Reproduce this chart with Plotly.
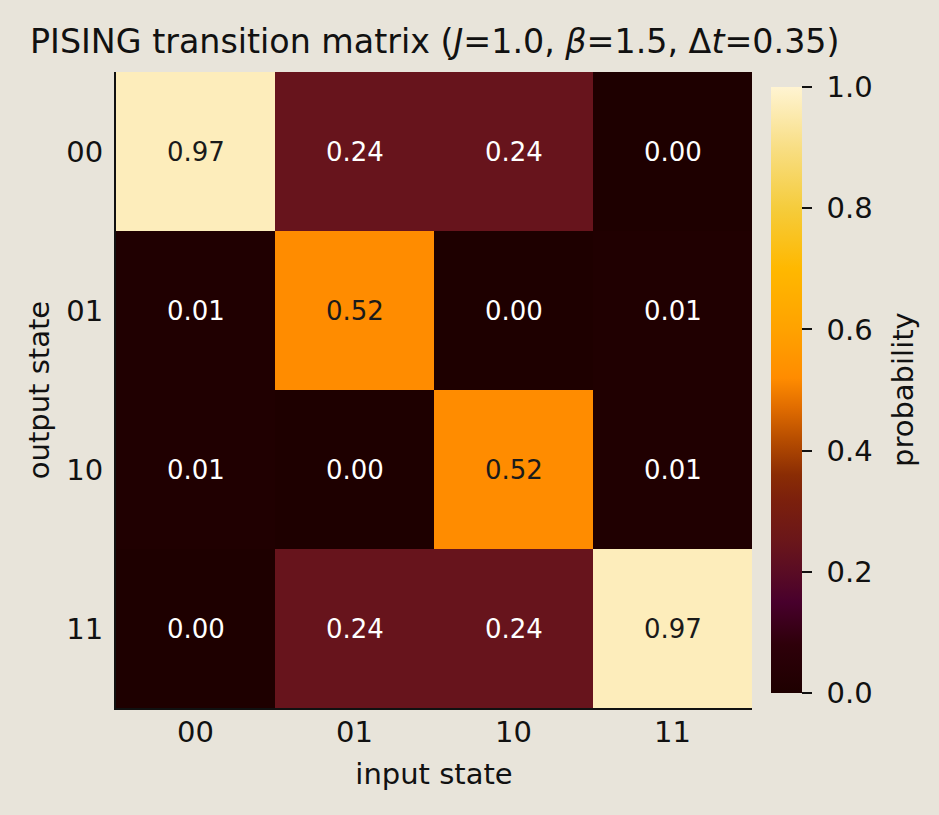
import plotly.graph_objects as go

# transition matrix values (rows = output state, cols = input state)
states = ['00', '01', '10', '11']
probs = [
    [0.97, 0.24, 0.24, 0.00],
    [0.01, 0.52, 0.00, 0.01],
    [0.01, 0.00, 0.52, 0.01],
    [0.00, 0.24, 0.24, 0.97],
]
cbar_ticks = [0.0, 0.2, 0.4, 0.6, 0.8, 1.0]

bg = '#e8e4da'
ink = '#111111'
font = 'DejaVu Sans'
fs = 29

# custom dark-red -> orange -> cream colormap
cmap = [
    [0.00, '#1e0000'],
    [0.08, '#2e000a'],
    [0.15, '#48002c'],
    [0.20, '#5a0c24'],
    [0.25, '#6a161a'],
    [0.32, '#7c200c'],
    [0.36, '#8a2c04'],
    [0.42, '#b84e00'],
    [0.47, '#e06c00'],
    [0.52, '#ff8c00'],
    [0.60, '#ffa200'],
    [0.70, '#ffb800'],
    [0.80, '#f5cc3c'],
    [0.90, '#f8de84'],
    [1.00, '#fff4d2'],
]

idx = list(range(len(states)))

fig = go.Figure(go.Heatmap(
    z=probs, x=idx, y=idx,
    zmin=0, zmax=1, colorscale=cmap,
    colorbar=dict(
        x=(771 - 116) / 636, xanchor='left', xref='paper',
        y=0.5, yanchor='middle',
        thickness=31, len=606 / 636, lenmode='fraction',
        outlinewidth=0, xpad=0, ypad=0,
        tickvals=cbar_ticks,
        ticktext=['\u00a0' + f'{t:.1f}' for t in cbar_ticks],
        ticks='outside', ticklen=10, tickwidth=2.2, tickcolor=ink,
        tickfont=dict(family=font, size=fs, color=ink),
    ),
    hovertemplate='in %{x} → out %{y}: %{z:.2f}<extra></extra>',
))

# cell labels, dark text on bright cells
for i, row in enumerate(probs):
    for j, v in enumerate(row):
        fig.add_annotation(
            x=j, y=i, text=f'{v:.2f}', showarrow=False,
            font=dict(family=font, size=26,
                      color='#1a1a1a' if v > 0.5 else 'white'),
        )

# colorbar label
fig.add_annotation(
    x=(903 - 116) / 636, y=0.5, xref='paper', yref='paper',
    xanchor='center', yanchor='middle',
    text='probability', textangle=-90, showarrow=False,
    font=dict(family=font, size=fs, color=ink),
)

fig.update_xaxes(
    tickvals=idx, ticktext=states, range=[-0.5, 3.5],
    title=dict(text='input state', font=dict(family=font, size=fs, color=ink), standoff=16),
    tickfont=dict(family=font, size=fs, color=ink),
    showline=True, linecolor=ink, linewidth=2.2,
    ticks='', showgrid=False, zeroline=False,
    ticklabelstandoff=-3,
)
fig.update_yaxes(
    tickvals=idx, ticktext=states, range=[3.5, -0.5],
    title=dict(text='output state', font=dict(family=font, size=fs, color=ink), standoff=8),
    tickfont=dict(family=font, size=fs, color=ink),
    showline=True, linecolor=ink, linewidth=2.2,
    ticks='', showgrid=False, zeroline=False,
    ticklabelstandoff=5,
)

fig.update_layout(
    width=939, height=815,
    margin=dict(l=116, r=187, t=72, b=107),
    paper_bgcolor=bg, plot_bgcolor=bg,
    title=dict(
        text='PISING transition matrix (<i>J</i>=1.0, <i>β</i>=1.5, Δ<i>t</i>=0.35)',
        x=30 / 939, xanchor='left', xref='container',
        y=1 - 41 / 815, yanchor='middle', yref='container',
        font=dict(family=font, size=33.3, color=ink),
    ),
)

fig.write_html('out.html', config={'displayModeBar': False},
               post_script="document.body.style.margin='0';")
